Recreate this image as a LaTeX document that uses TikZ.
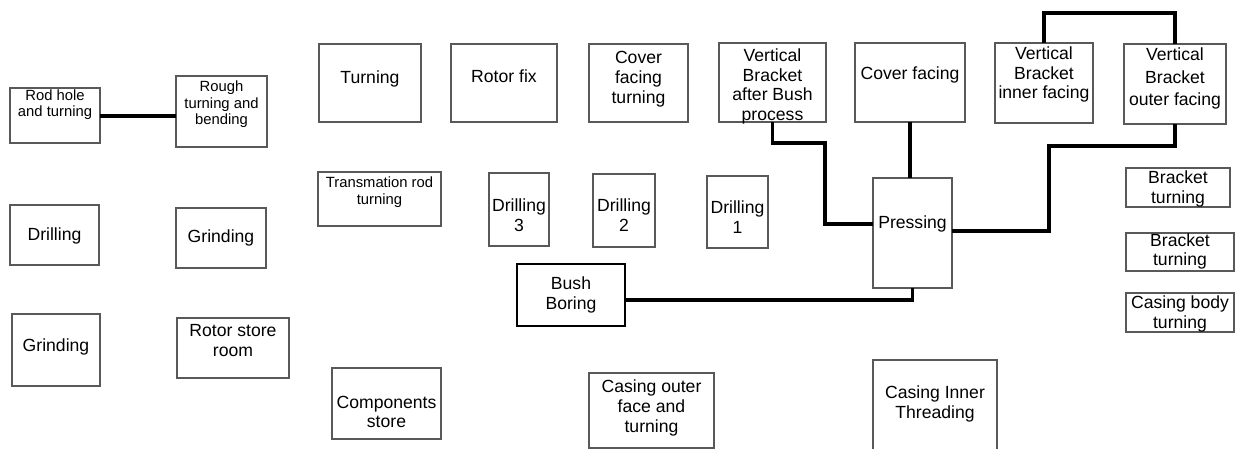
\documentclass[tikz,border=0pt]{standalone}
\usepackage{fontspec}
\setmainfont{Liberation Sans}
\newcommand{\bx}[9][]{%
  \node[box,#1,minimum width={(#5-#3)*0.5pt},minimum height={(#6-#4)*0.5pt}] (#2) at ({(#3+#5)/2},{(#4+#6)/2}) {};
  \node[lbl,#7] (#2-t) at ({(#3+#5)/2},{#8+2}) {#9};}
\begin{document}
\begin{tikzpicture}[x=0.5pt,y=-0.5pt,
  box/.style={draw=black!65,line width=0.55pt,rectangle,inner sep=0pt,outer sep=0pt},
  thickbox/.style={draw=black,line width=1.4pt},
  lbl/.style={inner sep=0pt,align=center,font=\fontsize{8.8}{9.85}\selectfont},
  small/.style={font=\fontsize{7.4}{8.3}\selectfont},
  wide/.style={font=\fontsize{8.8}{11.2}\selectfont},
  conn/.style={draw=black,line width=1.6pt}]
\useasboundingbox (0,0) rectangle (1238,449);
\clip (0,0) rectangle (1238,449);
% left columns
\bx{rod}{10}{88}{100}{143}{small}{102.5}{Rod hole\\and turning}
\bx{rough}{176}{76}{267}{147}{small}{102.5}{Rough\\turning and\\bending}
\bx{drillA}{10}{205}{99}{265}{}{234}{Drilling}
\bx{grindB}{176}{208}{266}{268}{}{235.7}{Grinding}
\bx{grindA}{12}{314}{100}{386}{}{345}{Grinding}
\bx{rstore}{177}{318}{289}{378}{}{338.5}{Rotor store\\room}
% middle
\bx{turning}{319}{44}{421}{122}{}{76.7}{Turning}
\bx{rotorfix}{451}{44}{557}{122}{}{74}{Rotor fix}
\bx{cft}{589}{44}{688}{122}{}{77.2}{Cover\\facing\\turning}
\bx{trans}{318}{172}{441}{226}{small}{190.3}{Transmation rod\\turning}
\bx{dthree}{489}{173}{549}{246}{}{213.3}{Drilling\\3}
\bx{dtwo}{593}{174}{655}{247}{}{213.3}{Drilling\\2}
\bx{done}{707}{176}{768}{248}{}{215}{Drilling\\1}
\bx[thickbox]{bush}{517}{264}{625}{326}{}{293}{Bush\\Boring}
\bx{comp}{332}{368}{441}{439}{}{410}{Components\\store}
\bx{cot}{589}{373}{714}{448}{}{406}{Casing outer\\face and\\turning}
% right
\bx{vbab}{719}{43}{826}{122}{}{84.3}{Vertical\\Bracket\\after Bush\\process}
\bx{cf}{855}{43}{965}{122}{}{73.3}{Cover facing}
\bx{vbi}{995}{43}{1093}{123}{}{72.5}{Vertical\\Bracket\\inner facing}
\bx{vbo}{1124}{44}{1226}{124}{wide}{76.5}{Vertical\\Bracket\\outer facing}
\bx{press}{873}{178}{952}{288}{}{222.3}{Pressing}
\bx{btone}{1126}{168}{1230}{207}{}{187}{Bracket\\turning}
\bx{bttwo}{1126}{233}{1234}{271}{}{249.5}{Bracket\\turning}
\bx{cbt}{1126}{293}{1234}{332}{}{312}{Casing body\\turning}
\bx{cit}{873}{360}{997}{470}{}{402}{Casing Inner\\Threading}
% waypoints
\coordinate (jA) at (825,143);
\coordinate (jB) at (825,224);
\coordinate (jC) at (1049,231);
\coordinate (jD) at (1049,146);
\coordinate (jE) at (1100,13);
\coordinate (jF) at (700,300);
\coordinate (jG) at (138,116);
% connectors
\draw[conn] (rod.east |- jG) -- (rough.west |- jG);
\draw[conn] (vbab.south) |- (jA) -- (jB) -- (press.west |- jB);
\draw[conn] (cf.south) -- (cf.south |- press.north);
\draw[conn] (press.east |- jC) -- (jC) -- (jD) -| (vbo.south);
\draw[conn] (vbi.north) |- (jE) -| (vbo.north);
\draw[conn] (bush.east |- jF) -| (press.south);
\end{tikzpicture}
\end{document}
